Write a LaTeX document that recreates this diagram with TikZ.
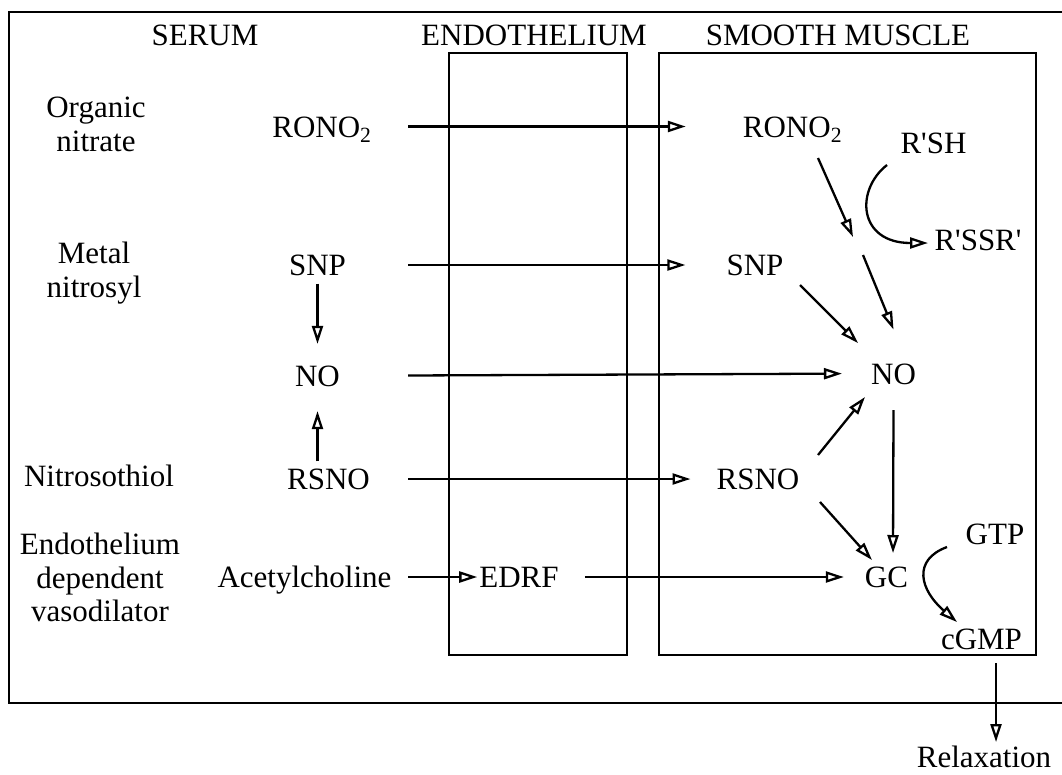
\documentclass[tikz,border=0pt]{standalone}
\usepackage{fontspec}
\setmainfont{Liberation Serif}
\usetikzlibrary{arrows.meta}
\newcommand{\labfont}{\fontsize{31}{33.5}\selectfont}

\begin{document}
\begin{tikzpicture}[>={Triangle[open,length=18pt,width=11pt]},x=1pt,y=-1pt,
    line width=2.3pt,
    every node/.style={font=\labfont,inner sep=0pt},
    chem/.style={text height=21pt,text depth=0pt},
    side/.style={align=center,anchor=north},
    box/.style={line width=2.8pt}]
  \useasboundingbox (0,0) rectangle (1062,774);
  % frame and the two cell layers
  \draw[box] (1062,12) -- (9,12) -- (9,703) -- (1062,703);
  \draw[box] (449,53) rectangle (627,655);
  \draw[box] (659,53) rectangle (1036,655);
  \node[chem] (serum) at (205,35) {SERUM};
  \node[chem] (endo) at (534,35) {ENDOTHELIUM};
  \node[chem] (muscle) at (838,35) {SMOOTH MUSCLE};
  % drug classes
  \node[side] (organic) at (96,96) {Organic\\nitrate};
  \node[side] (metal) at (94,241) {Metal\\nitrosyl};
  \node[chem] (thiol) at (99,476) {Nitrosothiol};
  \node[side] (vaso) at (100,532) {Endothelium\\dependent\\vasodilator};
  % serum side
  \node[chem] (rono1) at (322,126.5) {RONO\textsubscript{2}};
  \node[chem] (snp1) at (317.5,265) {SNP};
  \node[chem] (no1) at (317.5,375.5) {NO};
  \node[chem] (rsno1) at (328.5,479) {RSNO};
  \node[chem] (acetyl) at (304.5,577) {Acetylcholine};
  \node[chem] (edrf) at (519,577) {EDRF};
  % smooth muscle side
  \node[chem] (rono2) at (792.5,126.5) {RONO\textsubscript{2}};
  \node[chem] (rsh) at (933.5,143) {R\textquotesingle SH};
  \node[chem] (rssr) at (978,240) {R\textquotesingle SSR\textquotesingle};
  \node[chem] (snp2) at (755,265) {SNP};
  \node[chem] (no2) at (893.5,373.5) {NO};
  \node[chem] (rsno2) at (758,479) {RSNO};
  \node[chem] (gtp) at (995,534) {GTP};
  \node[chem] (gc) at (886.5,577) {GC};
  \node[chem] (cgmp) at (981.5,639) {cGMP};
  \node[chem] (relax) at (984,757) {Relaxation};
  \coordinate (lane) at (408,0);
  \coordinate (rxn) at (858,246);

  \foreach \a/\b/\g in {rono1/rono2/56,snp1/snp2/40,no1/no2/28,rsno1/rsno2/25,acetyl/edrf/1} {
    \draw[->,shorten >=\g pt] (\a.east -| lane) -- (\b.west);
  }
  \draw[->,shorten <=25pt,shorten >=20pt] (edrf) -- (gc);
  \draw[->,shorten <=7pt,shorten >=20pt] (snp1) -- (no1);
  \draw[->,shorten <=6pt,shorten >=24pt] (rsno1.north -| no1) -- (no1.south);

  \draw[->] ([shift={(25.5,31.5)}]rono2.center) -- ([shift={(-5,-9)}]rxn);
  \draw[->] ([shift={(5,9)}]rxn) -- ([shift={(0,-44)}]no2.center);
  \draw[->] ([shift={(-46.5,22)}]rsh.center) .. controls +(-32,25) and +(-70,0) .. ([shift={(-50,3)}]rssr.center);
  \draw[->] ([shift={(45,20)}]snp2.center) -- ([shift={(-35.5,-30.5)}]no2.center);
  \draw[->] ([shift={(60,-24)}]rsno2.center) -- ([shift={(-28.5,23.5)}]no2.center);
  \draw[->] ([shift={(0,36.5)}]no2.center) -- ([shift={(6.5,-24)}]gc.center);
  \draw[->] ([shift={(62,23)}]rsno2.center) -- ([shift={(-14.5,-17)}]gc.center);
  \draw[->] ([shift={(-48,13)}]gtp.center) .. controls +(-35,13) and +(-37,-32) .. ([shift={(-24.5,-17)}]cgmp.center);
  \draw[->] ([shift={(14.5,24)}]cgmp.center) -- ([shift={(12,-15)}]relax.center);
\end{tikzpicture}
\end{document}
